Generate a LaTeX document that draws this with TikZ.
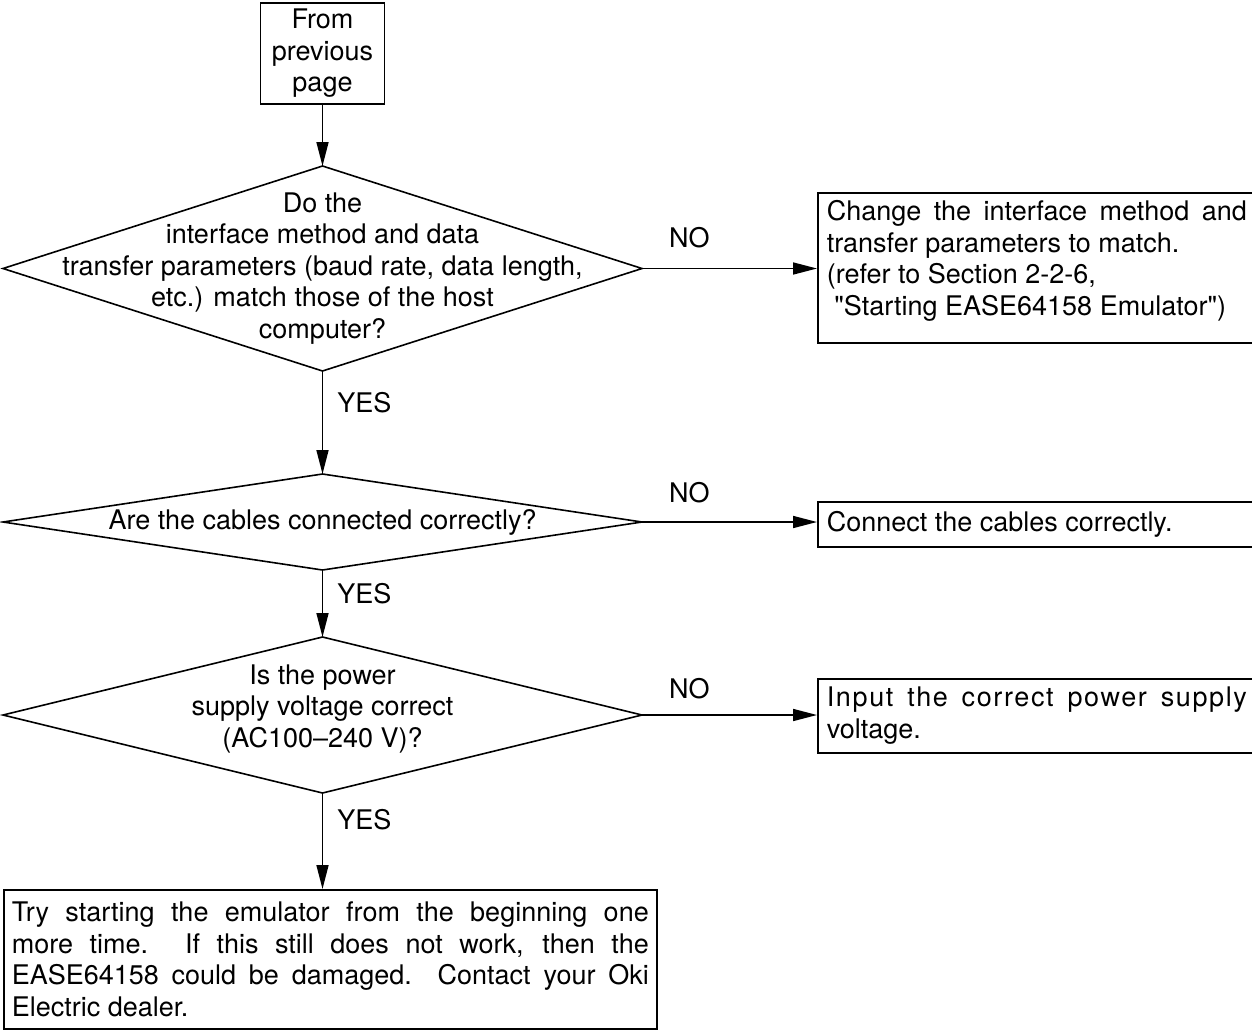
\documentclass[tikz,border=0pt]{standalone}
\usepackage{fontspec}
\setmainfont{TeX Gyre Heros}[Ligatures=TeXOff]
\usetikzlibrary{shapes.geometric,arrows.meta}

\begin{document}
\begin{tikzpicture}[x=1pt, y=-1pt, line width=1.6pt,
    font=\fontsize{27}{31.5}\selectfont,
    startbox/.style={draw, align=center, minimum width=124pt, minimum height=101pt, inner sep=0pt},
    decision/.style={draw, diamond, inner sep=0pt, outer sep=0pt},
    question/.style={align=center, inner sep=0pt},
    remedy/.style={draw, align=justify, text width=420pt, inner xsep=9pt, inner ysep=2pt, anchor=north west},
    answer/.style={inner sep=0pt},
    flow/.style={-{Triangle[length=24pt,width=12pt]}}]
    \useasboundingbox (0,0) rectangle (1252,1031);
    \clip (0,0) rectangle (1252,1031);

    % Start
    \node[startbox] (from) at (322.5,53.5) {From\\previous\\page};

    % Questions
    \node[decision, minimum width=639pt, minimum height=205pt] (q1) at (322.5,268.5) {};
    \node[question] (q1text) at (q1.center) {Do the\\interface method and data\\transfer parameters (baud rate, data length,\\etc.) match those of the host\\computer?};
    \node[decision, minimum width=639pt, minimum height=96pt] (q2) at (322.5,522) {};
    \node[question] (q2text) at (q2.center) {Are the cables connected correctly?};
    \node[decision, minimum width=639pt, minimum height=156pt] (q3) at (322.5,715) {};
    \node[question] (q3text) at ([yshift=6pt]q3.center) {Is the power\\supply voltage correct\\(AC100–240 V)?};

    % Remedies
    \node[remedy, inner ysep=8pt] (fix1) at (817,192) {Change the interface method and\linebreak transfer parameters to match.\\(refer to Section 2-2-6,\\\hspace*{0.28em}"Starting EASE64158 Emulator")\\[-12pt]\mbox{}};
    \node[remedy, minimum height=45pt] (fix2) at (817,501) {Connect the cables correctly.};
    \node[remedy, minimum height=74pt] (fix3) at (817,678) {{\addfontfeature{LetterSpace=6}Input the correct power supply}\linebreak voltage.};
    \node[remedy, text width=637pt, inner xsep=8pt, minimum height=139pt] (retry) at (3,889) {Try starting the emulator from the beginning one\linebreak more time.  If this still does not work, then the\linebreak EASE64158 could be damaged.  Contact your Oki\linebreak Electric dealer.};

    % Connectors
    \draw[flow] (from.south) -- (q1.north);
    \draw[flow] (q1.south) -- node[answer, pos=0.31, right=14pt] {YES} (q2.north);
    \draw[flow] (q2.south) -- node[answer, pos=0.35, right=14pt] {YES} (q3.north);
    \draw[flow] (q3.south) -- node[answer, pos=0.28, right=14pt] {YES} (q3.south |- retry.north);
    \draw[flow] (q1.east) -- node[answer, pos=0.27, above=20pt] {NO} (q1.east -| fix1.west);
    \draw[flow] (q2.east) -- node[answer, pos=0.27, above=18pt] {NO} (q2.east -| fix2.west);
    \draw[flow] (q3.east) -- node[answer, pos=0.27, above=15pt] {NO} (q3.east -| fix3.west);
\end{tikzpicture}
\end{document}
